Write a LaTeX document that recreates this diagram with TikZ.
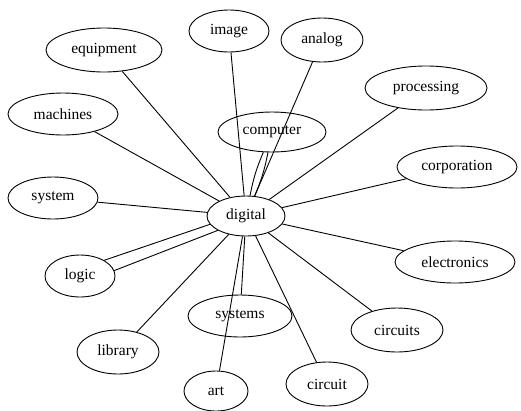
\documentclass[tikz,border=0pt]{standalone}
\usepackage{fontspec}
\setmainfont{Liberation Serif}
\usepackage{tikz}
\usetikzlibrary{shapes}
\usetikzlibrary{shapes.geometric}

\begin{document}
\begin{tikzpicture}[x=1pt, y=-1pt]
\tikzset{word/.style={ellipse, draw=black, line width=0.9pt, inner sep=0pt, minimum height=42pt, font=\fontsize{15.5}{17}\selectfont}}
\tikzset{link/.style={draw=black, line width=0.9pt}}
\useasboundingbox (0,0) rectangle (521,410);
\node [word, minimum width=78pt, minimum height=40pt] (digital) at (246, 216) {digital};
\node [word, minimum width=108pt, minimum height=40pt] (computer) at (272, 132) {computer};
\node [word, minimum width=80pt] (image) at (229, 31) {image};
\node [word, minimum width=116pt, minimum height=44pt] (equipment) at (104, 50) {equipment};
\node [word, minimum width=110pt] (machines) at (63, 114) {machines};
\node [word, minimum width=82pt, minimum height=44pt] (analog) at (322, 40) {analog};
\node [word, minimum width=122pt, minimum height=44pt] (processing) at (426, 88) {processing};
\node [word, minimum width=120pt] (corporation) at (457, 167) {corporation};
\node [word, minimum width=120pt] (electronics) at (455, 262) {electronics};
\node [word, minimum width=92pt, minimum height=44pt] (circuits) at (397, 330) {circuits};
\node [word, minimum width=82pt, minimum height=44pt] (circuit) at (327, 384) {circuit};
\node [word, minimum width=90pt] (system) at (53, 198) {system};
\node [word, minimum width=70pt] (logic) at (80, 276) {logic};
\node [word, minimum width=82pt, minimum height=44pt] (library) at (118, 352) {library};
\node [word, minimum width=64pt, minimum height=40pt] (art) at (216, 391) {art};
\node [word, minimum width=104pt] (systems) at (240, 316) {systems};
\draw [link] (digital) to (equipment);
\draw [link] (digital) to (machines);
\draw [link] (digital) to (image);
\draw [link] (digital) to (analog);
\draw [link, bend left=6] (digital) to (computer);
\draw [link, bend right=6] (digital) to (computer);
\draw [link] (digital) to (processing);
\draw [link] (digital) to (corporation);
\draw [link] (digital) to (electronics);
\draw [link] (digital) to (circuits);
\draw [link] (digital) to (circuit);
\draw [link] (digital) to (systems);
\draw [link] (digital) to (art);
\draw [link] (digital) to (library);
\draw [link] (digital.193) to (logic.33);
\draw [link] (digital.207) to (logic.9);
\draw [link] (digital) to (system);
\end{tikzpicture}
\end{document}
